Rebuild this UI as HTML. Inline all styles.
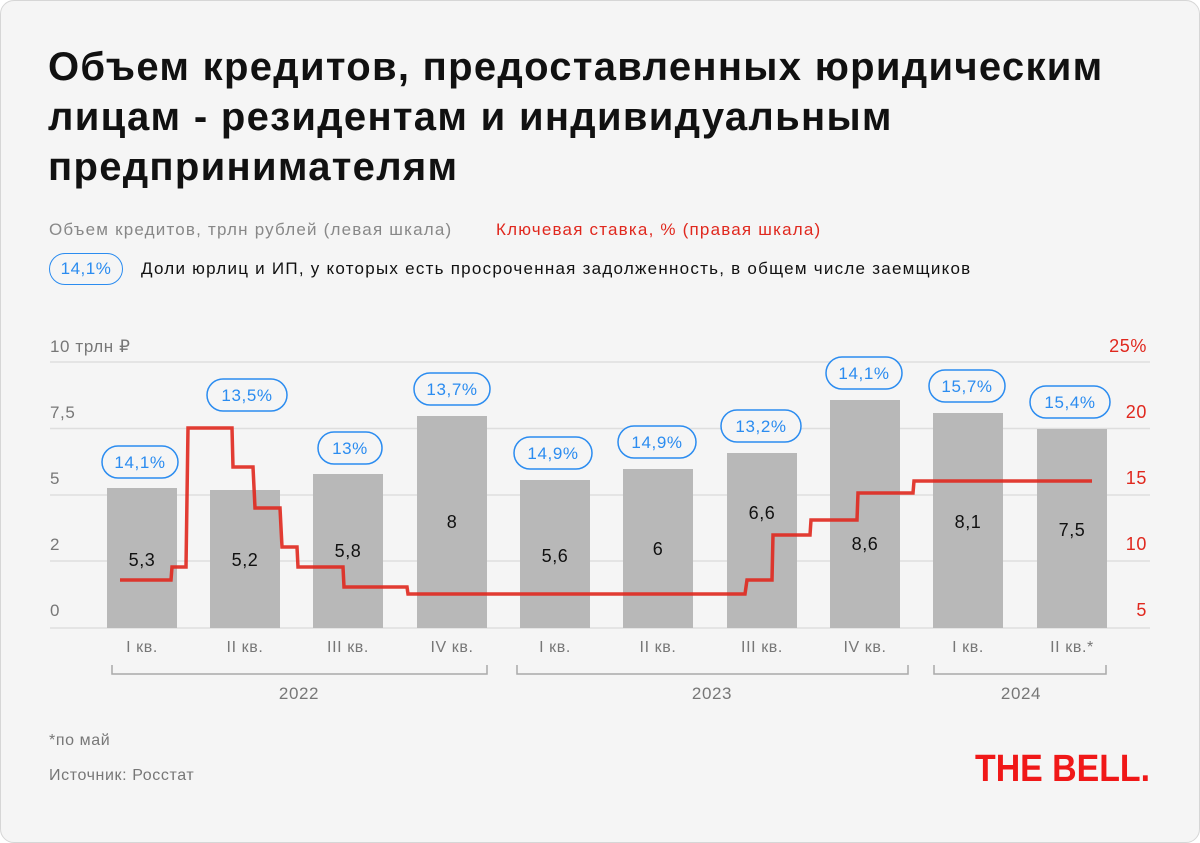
<!DOCTYPE html>
<html><head><meta charset="utf-8"><style>
html,body{margin:0;padding:0;background:#fff;}
body{width:1200px;height:843px;position:relative;overflow:hidden;font-family:"Liberation Sans","DejaVu Sans",sans-serif;}
.card{position:absolute;left:0;top:0;width:1198px;height:841px;background:#f5f5f5;border:1px solid #d6d6d6;border-radius:14px;}
h1{position:absolute;left:48px;top:42px;margin:0;font-size:40px;line-height:50px;font-weight:bold;color:#111;letter-spacing:1.3px;}
.t{position:absolute;white-space:nowrap;}
</style></head><body>
<div class="card"></div>
<h1>Объем кредитов, предоставленных юридическим<br>лицам - резидентам и индивидуальным<br>предпринимателям</h1>
<div class="t" style="left:49px;top:220px;font-size:17px;color:#888;letter-spacing:1.2px;">Объем кредитов, трлн рублей (левая шкала)</div>
<div class="t" style="left:496px;top:220px;font-size:17px;color:#e0281e;letter-spacing:1.2px;">Ключевая ставка, % (правая шкала)</div>
<div class="t" style="left:49px;top:253px;width:74px;height:32px;border:1.5px solid #2b8cf0;border-radius:17px;box-sizing:border-box;color:#2b8cf0;font-size:17px;line-height:29px;text-align:center;letter-spacing:0.5px;">14,1%</div>
<div class="t" style="left:141px;top:259px;font-size:17px;color:#111;letter-spacing:1.25px;">Доли юрлиц и ИП, у которых есть просроченная задолженность, в общем числе заемщиков</div>
<svg width="1200" height="843" style="position:absolute;left:0;top:0" font-family="Liberation Sans, DejaVu Sans, sans-serif" letter-spacing="0.6">
<g stroke="#dedede" stroke-width="1.5">
<line x1="50" y1="362" x2="1150" y2="362"/><line x1="50" y1="428.5" x2="1150" y2="428.5"/><line x1="50" y1="495" x2="1150" y2="495"/><line x1="50" y1="561" x2="1150" y2="561"/><line x1="50" y1="628" x2="1150" y2="628"/>
</g>
<g font-size="17" fill="#777">
<text x="50" y="352">10 трлн ₽</text><text x="50" y="418">7,5</text><text x="50" y="484">5</text><text x="50" y="550">2</text><text x="50" y="616">0</text>
</g>
<g font-size="18" fill="#e0281e" text-anchor="end">
<text x="1147" y="352">25%</text><text x="1147" y="418">20</text><text x="1147" y="484">15</text><text x="1147" y="550">10</text><text x="1147" y="616">5</text>
</g>
<g fill="#b8b8b8">
<rect x="107" y="488" width="70" height="140"/><rect x="210" y="490" width="70" height="138"/><rect x="313" y="474" width="70" height="154"/><rect x="417" y="416" width="70" height="212"/><rect x="520" y="480" width="70" height="148"/><rect x="623" y="469" width="70" height="159"/><rect x="727" y="453" width="70" height="175"/><rect x="830" y="400" width="70" height="228"/><rect x="933" y="413" width="70" height="215"/><rect x="1037" y="429" width="70" height="199"/>
</g>
<polyline fill="none" stroke="#e0281e" stroke-opacity="0.9" stroke-width="3.5" points="120,580 171,580 172,567 186,567 188,428 232,428 233,467 253,467 255,508 280,508 282,547 297,547 298,567 343,567 344,587 407,587 408,594 745,594 747,580 772,580 773,535 810,535 811,520 857,520 858,493 913,493 914,481 1092,481"/>
<g font-size="18" fill="#111" text-anchor="middle">
<text x="142" y="566">5,3</text><text x="245" y="566">5,2</text><text x="348" y="557">5,8</text><text x="452" y="528">8</text><text x="555" y="562">5,6</text><text x="658" y="555">6</text><text x="762" y="519">6,6</text><text x="865" y="550">8,6</text><text x="968" y="528">8,1</text><text x="1072" y="536">7,5</text>
</g>
<g fill="#f5f5f5" stroke="#2b8cf0" stroke-width="1.5">
<rect x="102" y="446" width="76" height="32" rx="16"/><rect x="207" y="379" width="80" height="32" rx="16"/><rect x="318" y="432" width="64" height="32" rx="16"/><rect x="414" y="373" width="76" height="32" rx="16"/><rect x="514" y="437" width="78" height="32" rx="16"/><rect x="618" y="426" width="78" height="32" rx="16"/><rect x="721" y="410" width="80" height="32" rx="16"/><rect x="826" y="357" width="76" height="32" rx="16"/><rect x="929" y="370" width="76" height="32" rx="16"/><rect x="1030" y="386" width="80" height="32" rx="16"/>
</g>
<g font-size="17" fill="#2b8cf0" text-anchor="middle">
<text x="140" y="468">14,1%</text><text x="247" y="401">13,5%</text><text x="350" y="454">13%</text><text x="452" y="395">13,7%</text><text x="553" y="459">14,9%</text><text x="657" y="448">14,9%</text><text x="761" y="432">13,2%</text><text x="864" y="379">14,1%</text><text x="967" y="392">15,7%</text><text x="1070" y="408">15,4%</text>
</g>
<g font-size="16" fill="#777" text-anchor="middle">
<text x="142" y="652">I кв.</text><text x="245" y="652">II кв.</text><text x="348" y="652">III кв.</text><text x="452" y="652">IV кв.</text><text x="555" y="652">I кв.</text><text x="658" y="652">II кв.</text><text x="762" y="652">III кв.</text><text x="865" y="652">IV кв.</text><text x="968" y="652">I кв.</text><text x="1072" y="652">II кв.*</text>
</g>
<g fill="none" stroke="#aaa" stroke-width="1.5">
<polyline points="112,665 112,674 487,674 487,665"/><polyline points="517,665 517,674 908,674 908,665"/><polyline points="934,665 934,674 1106,674 1106,665"/>
</g>
<g font-size="17" fill="#777" text-anchor="middle">
<text x="299" y="699">2022</text><text x="712" y="699">2023</text><text x="1021" y="699">2024</text>
</g>
<text x="49" y="745" font-size="16" fill="#777">*по май</text>
<text x="49" y="780" font-size="16" fill="#777">Источник: Росстат</text>
<text x="975" y="781" font-size="38" font-weight="bold" fill="#f01818" textLength="175" lengthAdjust="spacingAndGlyphs" letter-spacing="0">THE BELL.</text>
</svg>
</body></html>
